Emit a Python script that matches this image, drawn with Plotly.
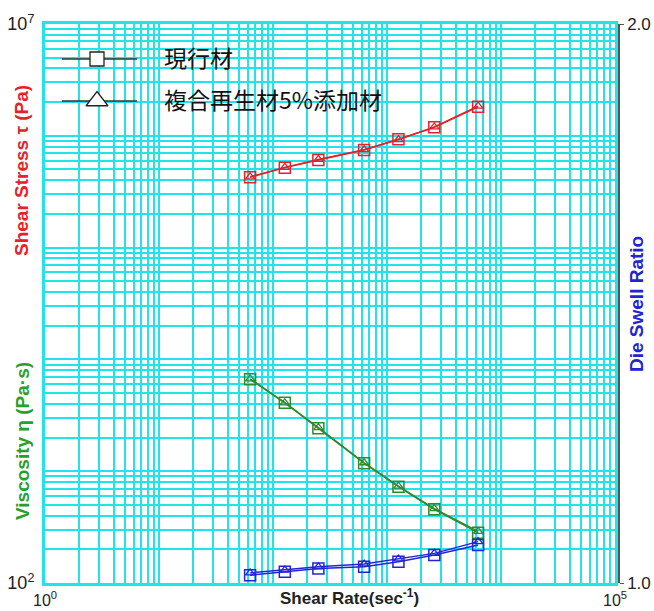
import numpy as np
import plotly.graph_objects as go

# ---- data -------------------------------------------------------------
shear_rate = [63, 127, 250, 630, 1260, 2600, 6300]          # sec^-1

stress_current = [4.26e5, 5.19e5, 6.08e5, 7.47e5, 9.31e5, 1.19e6, 1.82e6]   # Pa
stress_recycled = [4.30e5, 5.22e5, 6.15e5, 7.52e5, 9.25e5, 1.20e6, 1.84e6]

viscosity_current = [6640, 4100, 2420, 1180, 727, 456, 282]                  # Pa·s
viscosity_recycled = [6700, 4080, 2450, 1190, 735, 462, 290]

swell_current = [1.014, 1.020, 1.026, 1.029, 1.038, 1.050, 1.068]            # ratio
swell_recycled = [1.018, 1.023, 1.029, 1.034, 1.043, 1.053, 1.074]

series_names = ["現行材", "複合再生材5%添加材"]
x_tick_vals = [1, 100000]
x_tick_text = ["10<sup>0</sup>", "10<sup>5</sup>"]
y_tick_vals = [1e2, 1e7]
y_tick_text = ["10<sup>2</sup>", "10<sup>7</sup>"]
swell_tick_vals = [1.0, 2.0]
swell_tick_text = ["1.0", "2.0"]

# ---- styling ----------------------------------------------------------
W, H = 654, 611
ML, MR, MT, MB = 45, 35, 24, 28
PLOT_RIGHT = 615
paper_w = W - ML - MR
paper_h = H - MT - MB
x_dom_end = (PLOT_RIGHT - ML) / paper_w

GRID = "#22e3ea"
RED = "#e3222b"
GREEN = "#2e8b2e"
BLUE = "#2323d6"
TXT = "#222222"
FONT = "Liberation Sans, Arial, sans-serif"
CJK = "Noto Sans CJK JP, sans-serif"


def px_x(px):
    return (px - ML) / paper_w


def px_y(py):
    return (H - MB - py) / paper_h


# log grid: 1..9 within each decade (decade lines included)
def grid_vals(lo, hi):
    return [d * 10.0 ** k for k in range(lo, hi) for d in range(1, 10)][1:]


fig = go.Figure()

groups = [
    (stress_current, stress_recycled, "y", RED),
    (viscosity_current, viscosity_recycled, "y", GREEN),
    (swell_current, swell_recycled, "y2", BLUE),
]
for cur, rec, yax, col in groups:
    fig.add_trace(go.Scatter(
        x=shear_rate, y=cur, yaxis=yax, mode="lines+markers",
        name=series_names[0], showlegend=False,
        line=dict(color=col, width=1.5),
        marker=dict(symbol="square-open", size=11, color=col, line=dict(width=1.5)),
    ))
    fig.add_trace(go.Scatter(
        x=shear_rate, y=rec, yaxis=yax, mode="lines+markers",
        name=series_names[1], showlegend=False,
        line=dict(color=col, width=1.5),
        marker=dict(symbol="triangle-up-open", size=8, color=col, line=dict(width=1.3)),
    ))

# ---- hand-drawn legend (long line samples) ----------------------------
leg_rows = [(59, "square", 14), (101, "triangle-up", 19)]
line_x0, line_x1, mark_x, text_x = 62, 137, 97, 162
plot_w = PLOT_RIGHT - ML
for (row_y, sym, size), name in zip(leg_rows, series_names):
    fy = (H - MB - row_y) / paper_h
    fig.add_trace(go.Scatter(
        x=[(line_x0 - ML) / plot_w, (line_x1 - ML) / plot_w], y=[fy, fy],
        xaxis="x3", yaxis="y3", mode="lines", showlegend=False, hoverinfo="skip",
        line=dict(color="#333333", width=1.3),
    ))
    fig.add_trace(go.Scatter(
        x=[(mark_x - ML) / plot_w], y=[fy],
        xaxis="x3", yaxis="y3", mode="markers", showlegend=False, hoverinfo="skip",
        marker=dict(symbol=sym, size=size, color="white",
                    line=dict(color="#222222", width=1.3)),
    ))
    fig.add_annotation(
        x=px_x(text_x), y=px_y(row_y - 2), xref="paper", yref="paper",
        xanchor="left", yanchor="middle", showarrow=False,
        text=name, font=dict(family=CJK, size=23, color="#111111"),
    )


def title(text, cx, cy, size, color, angle=0):
    fig.add_annotation(
        x=px_x(cx), y=px_y(cy), xref="paper", yref="paper", showarrow=False,
        xanchor="center", yanchor="middle", textangle=angle, text=text,
        font=dict(family=FONT, size=size, color=color),
    )


# ---- axis titles ------------------------------------------------------
title("<b>Shear Rate(sec<sup>-1</sup>)</b>", 349, 597, 17, TXT)
title("<b>Shear Stress τ (Pa)</b>", 22, 171, 19, RED, -90)
title("<b>Viscosity η (Pa·s)</b>", 22, 441, 19, "#28a028", -90)
title("<b>Die Swell Ratio</b>", 636, 304, 19, BLUE, -90)

axis_common = dict(
    type="log", showgrid=False,
    showline=True, mirror=True, linecolor=GRID, linewidth=3,
    ticks="", zeroline=False, automargin=False,
)

fig.update_layout(
    width=W, height=H,
    margin=dict(l=ML, r=MR, t=MT, b=MB, autoexpand=False),
    paper_bgcolor="white", plot_bgcolor="white",
    showlegend=False,
    xaxis=dict(
        **axis_common, domain=[0, x_dom_end], range=[0, 5],
        tickfont=dict(family=FONT, size=16, color=TXT),
        tickvals=x_tick_vals, ticktext=x_tick_text, ticklabelstandoff=1,
        minor=dict(tickvals=grid_vals(0, 5), showgrid=True,
                   gridcolor=GRID, gridwidth=1.6, ticks=""),
    ),
    yaxis=dict(
        **axis_common, range=[2, 7],
        tickfont=dict(family=FONT, size=18, color=TXT),
        tickvals=y_tick_vals, ticktext=y_tick_text, ticklabelstandoff=4,
        minor=dict(tickvals=grid_vals(2, 7), showgrid=True,
                   gridcolor=GRID, gridwidth=1.6, ticks=""),
    ),
    yaxis2=dict(
        overlaying="y", side="right", anchor="free", position=1.0,
        range=[1, 2], tickvals=swell_tick_vals, ticktext=swell_tick_text,
        showgrid=False, zeroline=False, automargin=False,
        showline=True, linecolor="#555555", linewidth=1.5,
        ticks="outside", ticklen=4, tickcolor="#555555",
        tickfont=dict(family=FONT, size=17, color=TXT),
    ),
    xaxis3=dict(overlaying="x", range=[0, 1], visible=False, fixedrange=True),
    yaxis3=dict(overlaying="y", range=[0, 1], visible=False, fixedrange=True),
)

fig.write_html("out.html")
